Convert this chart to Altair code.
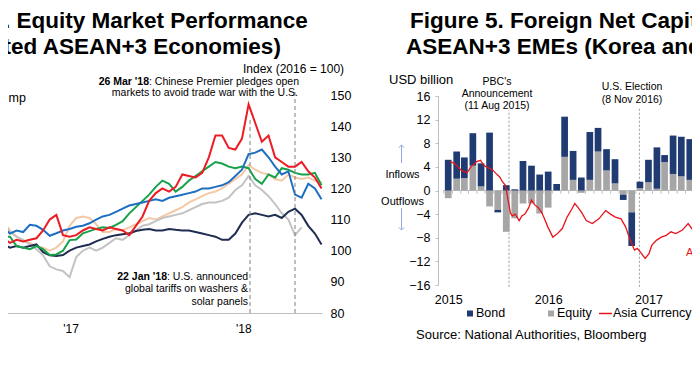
import altair as alt
import pandas as pd

FONT = "Liberation Sans"

# ---------------- Left panel: equity indices (Index 2016 = 100), biweekly ----------------
left_dates = pd.date_range("2016-08-12", periods=49, freq="14D")
red_vals = [104, 102.5, 103.5, 103, 103.5, 104, 106.5, 110, 111.5, 105, 104.5, 105, 106.5, 107.5,
            107, 106.5, 107.5, 107, 106.5, 105, 108, 111, 116, 118.5, 120, 119, 120.5, 124.5, 124,
            123.5, 125, 130, 137, 137, 133, 132.5, 136, 147, 141, 135, 137, 130, 128.5, 127, 127,
            128.5, 125.5, 123.5, 120]
green_vals = [104.5, 104.5, 101.5, 101, 100.5, 101.5, 100.5, 98.6, 98.8, 100, 103.4, 103.6, 105.6,
              106.3, 107, 107.5, 107.3, 108.3, 109.5, 112, 114, 116, 118, 120.5, 122.5, 121.5, 119,
              120.5, 122.5, 124, 125.5, 127, 128.5, 128, 127, 126.5, 127, 126.5, 123, 121.5, 124.5,
              123.5, 126.5, 126, 125, 124.5, 124.5, 125, 121]
blue_vals = [107.5, 105.5, 106.5, 106, 108.3, 108, 106.7, 104.8, 105.6, 106.5, 107, 107.7, 108,
             108.8, 110, 111, 111.5, 112.5, 113.5, 114.5, 115, 115.5, 116, 116.5, 116, 117, 117.5,
             118, 118.5, 119, 120, 120, 120.5, 121, 122, 124, 126, 131, 131.5, 132.5, 130, 127,
             124.5, 125.5, 118, 117, 121.5, 120, 116.5]
peach_vals = [109.5, 106.5, 104.5, 103, 102.5, 101.5, 101, 100, 101, 103, 108, 110.5, 111, 110.5,
              108.5, 106, 106, 107, 106.5, 107.5, 108.5, 109.5, 110.5, 110, 111, 112, 113, 114,
              115.5, 116.5, 117.5, 118.5, 119, 120, 121.5, 123, 124.5, 127.5, 126, 125, 124.5, 123,
              122.5, 124.5, 123.5, 123, 123.5, 122.5, 122]
gray_vals = [109.5, 106, 104.5, 103.5, 102, 100.5, 98.5, 95, 94, 93.5, 91.5, 98, 100, 101, 100,
             101, 102.5, 104, 103.5, 105, 106.5, 108, 108.5, 109.5, 110.5, 111, 111.5, 112, 113,
             114, 115, 115.5, 115.5, 116, 117, 119.5, 121, 124, 121, 119.5, 117.5, 115, 112, 110,
             105, 107.5]
navy_vals = [102, 101, 101.5, 101, 101.5, 102, 99.5, 98.5, 98.3, 98.6, 100, 101, 101.5, 102, 103,
             103.8, 104.5, 105, 105.3, 105.6, 106.3, 106.7, 107, 106.5, 106.5, 107, 106.7, 106.5,
             106.5, 106, 105.5, 105, 104.5, 103.5, 103.5, 105.5, 109, 111.5, 112, 111.5, 111,
             111.5, 110.5, 112.5, 113.5, 111.5, 108, 105.5, 102]

left_series = [  # drawing order (last on top)
    ("peach", peach_vals, "#F5C8A6"),
    ("gray", gray_vals, "#C3C3C3"),
    ("navy", navy_vals, "#1F2D52"),
    ("green", green_vals, "#16A24A"),
    ("blue", blue_vals, "#1D6FC2"),
    ("red", red_vals, "#EC1C24"),
]
left_event_dates = ["2018-01-15", "2018-04-20"]
left_event_tops = [142, 151]
left_ticks = [alt.DateTime(year=2017, month=1, date=1), alt.DateTime(year=2018, month=1, date=1)]
left_yticks = [80, 90, 100, 110, 120, 130, 140, 150]

# ---------------- Right panel: foreign net capital flows ----------------
months = pd.date_range("2015-01-01", periods=30, freq="MS")
bond = [5.2, 4.6, 3.5, 5.5, 3.9, 9.8, -0.4, 0.9, 0.2, 5.0, 4.2, 2.7, 3.2, 1.1, 6.8, 4.9, 2.2, 8.1,
        4.0, 3.6, 4.1, -0.9, -5.7, 1.1, 3.8, 7.0, 1.2, 6.5, 6.7, 6.9]
equity = [-1.3, 2.0, 2.1, 4.2, 0.7, -2.7, -3.3, -7.0, -4.7, -2.2, -2.2, -3.9, -2.9, 0.0, 5.7, 1.8,
          -0.4, 1.8, 6.6, 3.4, 1.2, -0.7, -3.7, 0.4, 1.4, 0.3, 4.8, 2.8, 2.4, 1.8]
cur_dates = ["2015-01-07", "2015-01-24", "2015-02-18", "2015-03-11", "2015-03-25", "2015-04-15",
             "2015-04-29", "2015-05-10", "2015-05-20", "2015-06-03", "2015-06-14", "2015-06-24",
             "2015-07-08", "2015-07-19", "2015-07-29", "2015-08-16", "2015-08-23", "2015-09-03",
             "2015-09-17", "2015-09-27", "2015-10-08", "2015-10-22", "2015-11-01", "2015-11-12",
             "2015-11-26", "2015-12-07", "2015-12-17", "2015-12-31", "2016-01-18", "2016-02-04",
             "2016-02-22", "2016-03-10", "2016-03-28", "2016-04-07", "2016-04-18", "2016-05-02",
             "2016-05-19", "2016-06-10", "2016-07-04", "2016-07-29", "2016-08-15", "2016-09-02",
             "2016-09-23", "2016-10-10", "2016-10-24", "2016-11-11", "2016-11-21", "2016-12-02",
             "2016-12-20", "2017-01-03", "2017-01-13", "2017-01-31", "2017-02-17", "2017-03-07",
             "2017-03-24", "2017-04-11", "2017-05-05", "2017-05-26", "2017-06-09", "2017-06-20"]
cur_vals = [4.9, 4.6, 3.4, 3.0, 4.0, 4.9, 5.1, 4.3, 4.0, 3.7, 3.4, 2.9, 2.3, 1.4, 0.9, -3.8, -4.3,
            -4.0, -5.1, -4.3, -4.0, -2.9, -1.6, -2.4, -2.9, -3.6, -4.6, -6.2, -7.9, -7.3, -6.4,
            -4.5, -3.1, -2.2, -2.8, -3.7, -5.1, -5.6, -4.8, -3.4, -4.0, -4.5, -4.8, -6.2, -8.1,
            -10.1, -9.8, -10.4, -11.5, -10.7, -9.3, -8.4, -7.9, -7.6, -7.0, -7.3, -6.7, -5.6,
            -6.5, -7.0]
right_event_dates = ["2015-08-11", "2016-11-29"]
right_event_tops = [13.6, 14.1]
right_ticks = [alt.DateTime(year=y, month=1, date=1) for y in (2015, 2016, 2017)]
right_yticks = [-16, -12, -8, -4, 0, 4, 8, 12, 16]

BOND_C = "#203A72"
EQ_C = "#A6A6A6"
RED_C = "#E8141C"
ARROW_C = "#8FAADC"

# ---------------- Left group ----------------
xL = alt.Scale(domain=[alt.DateTime(year=2016, month=8, date=5), alt.DateTime(year=2018, month=6, date=16)],
               range=[0, 322])
yL = alt.Scale(domain=[80, 150], range=[313, 95], nice=False, zero=False)
axL = alt.Axis(orient="bottom", offset=-40, values=left_ticks, format="'%y", ticks=False, grid=False,
               domainColor="#BFBFBF", labelFontSize=12, labelColor="black", labelPadding=10,
               title=None, labelFont=FONT)
ayL = alt.Axis(orient="right", offset=-378, values=left_yticks, domain=False, ticks=False, grid=False,
               labelFontSize=12.5, labelColor="black", labelPadding=8, title=None, labelFont=FONT)

left_layers = []
for name, vals, col in left_series:
    df = pd.DataFrame({"date": left_dates[:len(vals)], "value": vals})
    left_layers.append(
        alt.Chart(df).mark_line(color=col, strokeWidth=2).encode(
            x=alt.X("date:T", scale=xL, axis=axL),
            y=alt.Y("value:Q", scale=yL, axis=ayL),
        )
    )
ev_left = pd.DataFrame({"date": pd.to_datetime(left_event_dates), "top": left_event_tops,
                        "bottom": [80] * len(left_event_dates)})
left_layers.append(
    alt.Chart(ev_left).mark_rule(color="#7F7F7F", strokeDash=[4, 3], strokeWidth=1).encode(
        x=alt.X("date:T", scale=xL, axis=axL),
        y=alt.Y("bottom:Q", scale=yL, axis=ayL),
        y2="top:Q",
    )
)
left_group = alt.layer(*left_layers)

# ---------------- Right group ----------------
xR = alt.Scale(domain=[alt.DateTime(year=2014, month=12, date=13), alt.DateTime(year=2017, month=6, date=20)],
               range=[438, 700])
yR = alt.Scale(domain=[-16, 16], range=[285, 96], nice=False, zero=False)
axR = alt.Axis(orient="bottom", offset=-63, values=right_ticks, format="%Y", ticks=False, domain=False,
               grid=False, labelFontSize=12.5, labelColor="black", labelPadding=3, title=None,
               labelFont=FONT)
ayR = alt.Axis(orient="left", offset=-438, values=right_yticks, grid=False, domainColor="#BFBFBF",
               tickColor="#BFBFBF", tickSize=3, labelPadding=5, labelFontSize=12.5, labelColor="black",
               title=None, labelFont=FONT)

bars_df = pd.DataFrame({
    "date": list(months) * 2,
    "type": ["Equity"] * len(months) + ["Bond"] * len(months),
    "value": equity + bond,
    "ord": [0] * len(months) + [1] * len(months),
})
bars = alt.Chart(bars_df).mark_bar(size=6.7).encode(
    x=alt.X("date:T", scale=xR, axis=axR),
    y=alt.Y("value:Q", scale=yR, axis=ayR, stack="zero"),
    color=alt.Color("type:N", scale=alt.Scale(domain=["Bond", "Equity"], range=[BOND_C, EQ_C]), legend=None),
    order=alt.Order("ord:Q"),
)
zero_df = pd.DataFrame({"s": [pd.Timestamp("2014-12-13")], "e": [pd.Timestamp("2017-06-20")], "v": [0]})
zero_line = alt.Chart(zero_df).mark_rule(color="#BFBFBF", strokeWidth=1).encode(
    x=alt.X("s:T", scale=xR, axis=axR), x2="e:T", y=alt.Y("v:Q", scale=yR, axis=ayR)
)
tick_df = pd.DataFrame({"date": pd.date_range("2014-12-01", periods=31, freq="MS") + pd.Timedelta(days=15),
                        "a": 0.0, "b": -0.55})
zero_ticks = alt.Chart(tick_df).mark_rule(color="#BFBFBF", strokeWidth=1).encode(
    x=alt.X("date:T", scale=xR, axis=axR), y=alt.Y("a:Q", scale=yR, axis=ayR), y2="b:Q"
)
ev_right = pd.DataFrame({"date": pd.to_datetime(right_event_dates), "top": right_event_tops,
                         "bottom": [-16.3] * len(right_event_dates)})
ev_rules = alt.Chart(ev_right).mark_rule(color="#9A9A9A", strokeDash=[2, 2], strokeWidth=1).encode(
    x=alt.X("date:T", scale=xR, axis=axR), y=alt.Y("bottom:Q", scale=yR, axis=ayR), y2="top:Q"
)
cur_df = pd.DataFrame({"date": pd.to_datetime(cur_dates), "value": cur_vals})
cur_line = alt.Chart(cur_df).mark_line(color=RED_C, strokeWidth=1.3).encode(
    x=alt.X("date:T", scale=xR, axis=axR), y=alt.Y("value:Q", scale=yR, axis=ayR)
)
right_group = alt.layer(zero_line, zero_ticks, ev_rules, bars, cur_line)


# ---------------- Annotations ----------------
def label(text, x, y, size=12, weight="normal", color="black", align="left", baseline="middle"):
    return alt.Chart(pd.DataFrame({"t": [text]})).mark_text(
        align=align, baseline=baseline, fontSize=size, fontWeight=weight, color=color, font=FONT
    ).encode(x=alt.value(x), y=alt.value(y), text="t:N")


notes = [
    # titles
    label("4. Equity Market Performance", -8.5, 28, size=22.5, weight="bold", baseline="alphabetic"),
    label("cted ASEAN+3 Economies)", -9, 54, size=22.5, weight="bold", baseline="alphabetic"),
    label("Figure 5. Foreign Net Capita", 410, 28, size=22.5, weight="bold", baseline="alphabetic"),
    label("ASEAN+3 EMEs (Korea and", 406, 54, size=22.5, weight="bold", baseline="alphabetic"),
    # left panel texts
    label("Index (2016 = 100)", 243, 69, size=12),
    label("26 Mar '18", 149, 82, size=10.5, weight="bold", align="right"),
    label(": Chinese Premier pledges open", 149, 82, size=10.5),
    label("markets to avoid trade war with the U.S.", 298, 93, size=10.5, align="right"),
    label("mp", 8.5, 98, size=12.5),
    label("22 Jan '18", 167, 277, size=10.5, weight="bold", align="right"),
    label(": U.S. announced", 167, 277, size=10.5),
    label("global tariffs on washers &", 248, 289, size=10.5, align="right"),
    label("solar panels", 248, 301.5, size=10.5, align="right"),
    # right panel texts
    label("USD billion", 389, 80, size=13),
    label("PBC's", 497, 82, size=10.5, align="center"),
    label("Announcement", 497, 94, size=10.5, align="center"),
    label("(11 Aug 2015)", 497, 106, size=10.5, align="center"),
    label("U.S. Election", 632, 87, size=10.5, align="center"),
    label("(8 Nov 2016)", 632, 99.5, size=10.5, align="center"),
    label("Inflows", 402.5, 175, size=11, align="center"),
    label("Outflows", 402.5, 201.5, size=11, align="center"),
    label("Ap", 686, 253, size=11, color=RED_C),
    label("Bond", 476, 313, size=12.5),
    label("Equity", 557, 313, size=12.5),
    label("Asia Currency", 613, 313, size=12.5),
    label("Source: National Authorities, Bloomberg", 416, 335, size=13),
]
one = pd.DataFrame({"k": [0]})
shapes = [
    alt.Chart(one).mark_square(size=36, color=BOND_C, opacity=1).encode(x=alt.value(470), y=alt.value(313.5)),
    alt.Chart(one).mark_square(size=36, color=EQ_C, opacity=1).encode(x=alt.value(551), y=alt.value(313.5)),
    alt.Chart(one).mark_rule(color=RED_C, strokeWidth=1.5).encode(x=alt.value(599), x2=alt.value(612), y=alt.value(313.5)),
    # inflow / outflow arrows
    alt.Chart(one).mark_rule(color=ARROW_C, strokeWidth=1).encode(x=alt.value(401.5), y=alt.value(145), y2=alt.value(163)),
    alt.Chart(one).mark_point(shape="M-1,1L0,0L1,1", filled=False, size=30, color=ARROW_C, opacity=1,
                              strokeWidth=1).encode(x=alt.value(401.5), y=alt.value(145)),
    alt.Chart(one).mark_rule(color=ARROW_C, strokeWidth=1).encode(x=alt.value(401.5), y=alt.value(208), y2=alt.value(230)),
    alt.Chart(one).mark_point(shape="M-1,-1L0,0L1,-1", filled=False, size=30, color=ARROW_C, opacity=1,
                              strokeWidth=1).encode(x=alt.value(401.5), y=alt.value(230)),
]

chart = alt.layer(left_group, right_group, *notes, *shapes).resolve_scale(
    x="independent", y="independent", color="independent"
).properties(
    width=700,
    height=353,
    autosize=alt.AutoSizeParams(type="none"),
    padding={"left": -8, "top": -8, "right": -8, "bottom": 0},
).configure_view(stroke=None).configure(font=FONT)

chart.save("out.html", embed_options={"renderer": "svg", "actions": False})
